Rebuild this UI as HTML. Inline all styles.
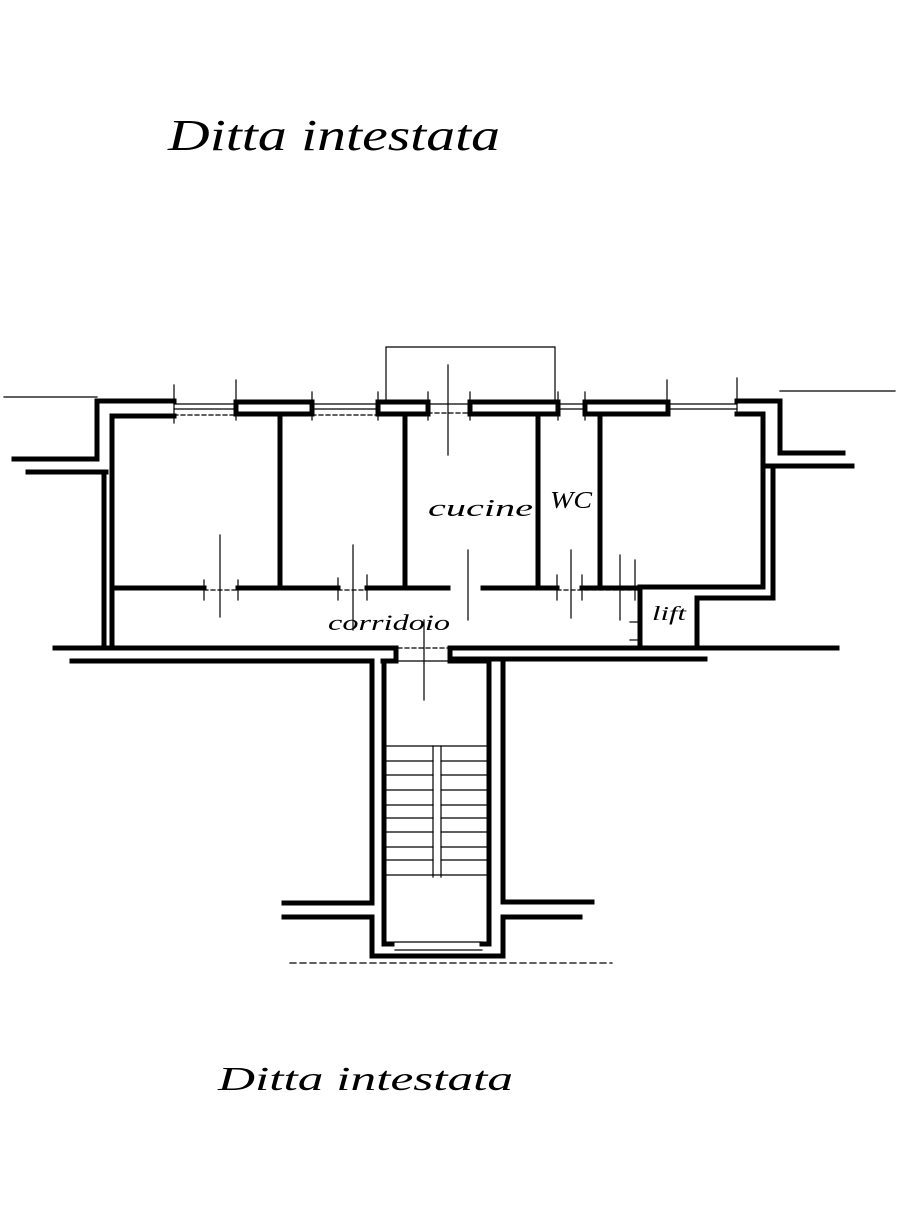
<!DOCTYPE html>
<html><head><meta charset="utf-8"><style>
html,body{margin:0;padding:0;background:#fff;}
svg{display:block;}
text{font-family:"Liberation Serif",serif;font-style:italic;fill:#000;}
</style></head><body>
<svg width="920" height="1230" viewBox="0 0 920 1230" xmlns="http://www.w3.org/2000/svg">
<text x="168" y="150" font-size="44" textLength="332" lengthAdjust="spacingAndGlyphs">Ditta intestata</text>
<text x="218" y="1090" font-size="34" textLength="295" lengthAdjust="spacingAndGlyphs">Ditta intestata</text>

<g stroke="#000" fill="none" stroke-linecap="square">
<!-- thin lines -->
<g stroke-width="1.2">
<line x1="4" y1="397" x2="97" y2="397"/>
<line x1="780" y1="391" x2="895" y2="391"/>
<polyline points="386,400 386,347 555,347 555,400"/>
<line x1="448" y1="365" x2="448" y2="455"/>
<!-- window lines -->
<line x1="174" y1="404" x2="236" y2="404"/><line x1="174" y1="409" x2="236" y2="409"/><line x1="174" y1="415" x2="236" y2="415" stroke-dasharray="4 3"/>
<line x1="312" y1="404" x2="378" y2="404"/><line x1="312" y1="409" x2="378" y2="409"/><line x1="312" y1="415" x2="378" y2="415" stroke-dasharray="4 3"/>
<line x1="428" y1="404" x2="470" y2="404"/><line x1="428" y1="413" x2="470" y2="413" stroke-dasharray="4 3"/>
<line x1="558" y1="404" x2="585" y2="404"/><line x1="558" y1="409" x2="585" y2="409"/>
<line x1="668" y1="404" x2="737" y2="404"/><line x1="668" y1="409" x2="737" y2="409"/>
<!-- window ticks -->
<line x1="174" y1="385" x2="174" y2="423"/><line x1="236" y1="380" x2="236" y2="420"/>
<line x1="312" y1="392" x2="312" y2="420"/><line x1="378" y1="392" x2="378" y2="420"/>
<line x1="428" y1="392" x2="428" y2="420"/><line x1="470" y1="392" x2="470" y2="420"/>
<line x1="558" y1="392" x2="558" y2="420"/><line x1="585" y1="392" x2="585" y2="420"/>
<line x1="667" y1="380" x2="667" y2="415"/><line x1="737" y1="378" x2="737" y2="415"/>
<!-- door ticks corridor -->
<line x1="204" y1="580" x2="204" y2="600"/><line x1="220" y1="535" x2="220" y2="617"/><line x1="238" y1="580" x2="238" y2="600"/>
<line x1="338" y1="578" x2="338" y2="600"/><line x1="353" y1="545" x2="353" y2="630"/><line x1="367" y1="575" x2="367" y2="600"/>
<line x1="468" y1="550" x2="468" y2="620"/><line x1="557" y1="575" x2="557" y2="600"/><line x1="571" y1="550" x2="571" y2="618"/><line x1="582" y1="575" x2="582" y2="600"/>
<line x1="620" y1="555" x2="620" y2="620"/><line x1="635" y1="560" x2="635" y2="600"/>
<line x1="204" y1="590" x2="238" y2="590" stroke-dasharray="4 3"/>
<line x1="338" y1="590" x2="367" y2="590" stroke-dasharray="4 3"/>
<line x1="557" y1="590" x2="640" y2="590" stroke-dasharray="4 3"/>
<line x1="630" y1="622" x2="640" y2="622"/><line x1="630" y1="640" x2="640" y2="640"/>
<line x1="398" y1="648" x2="450" y2="648" stroke-dasharray="4 3"/>
<line x1="398" y1="661" x2="450" y2="661"/>
<line x1="424" y1="620" x2="424" y2="700"/>
<!-- stairs -->
<line x1="387" y1="746" x2="487" y2="746"/>
<line x1="433" y1="746" x2="433" y2="877"/><line x1="441" y1="746" x2="441" y2="877"/>
<line x1="387" y1="761" x2="433" y2="761"/><line x1="441" y1="761" x2="487" y2="761"/>
<line x1="387" y1="775" x2="433" y2="775"/><line x1="441" y1="775" x2="487" y2="775"/>
<line x1="387" y1="790" x2="433" y2="790"/><line x1="441" y1="790" x2="487" y2="790"/>
<line x1="387" y1="805" x2="433" y2="805"/><line x1="441" y1="805" x2="487" y2="805"/>
<line x1="387" y1="818" x2="433" y2="818"/><line x1="441" y1="818" x2="487" y2="818"/>
<line x1="387" y1="832" x2="433" y2="832"/><line x1="441" y1="832" x2="487" y2="832"/>
<line x1="387" y1="847" x2="433" y2="847"/><line x1="441" y1="847" x2="487" y2="847"/>
<line x1="387" y1="860" x2="433" y2="860"/><line x1="441" y1="860" x2="487" y2="860"/>
<line x1="387" y1="875" x2="487" y2="875"/>
<line x1="395" y1="942" x2="482" y2="942"/><line x1="395" y1="950" x2="482" y2="950"/>
<line x1="290" y1="963" x2="612" y2="963" stroke-dasharray="6 4"/>
</g>

<!-- thick walls -->
<g stroke-width="5">
<line x1="97" y1="401" x2="174" y2="401"/>
<polyline points="97,401 97,459 14,459"/>
<line x1="28" y1="472" x2="106" y2="472"/>
<line x1="104" y1="472" x2="104" y2="648"/>
<line x1="112" y1="416" x2="112" y2="648"/>
<line x1="112" y1="416" x2="174" y2="416"/>
<rect x="236" y="402" width="76" height="12"/>
<rect x="378" y="402" width="50" height="12"/>
<rect x="470" y="402" width="88" height="12"/>
<rect x="585" y="402" width="83" height="12"/>
<polyline points="737,401 780,401 780,453 843,453"/>
<polyline points="737,414 763,414 763,587 640,587"/>
<polyline points="765,466 852,466"/>
<polyline points="773,466 773,598 697,598 697,645"/>
<line x1="640" y1="587" x2="640" y2="645"/>
<line x1="280" y1="416" x2="280" y2="588"/>
<line x1="405" y1="416" x2="405" y2="588"/>
<line x1="538" y1="414" x2="538" y2="588"/>
<line x1="600" y1="414" x2="600" y2="588"/>
<line x1="112" y1="588" x2="204" y2="588"/>
<line x1="238" y1="588" x2="338" y2="588"/>
<line x1="367" y1="588" x2="448" y2="588"/>
<line x1="483" y1="588" x2="557" y2="588"/>
<line x1="582" y1="588" x2="640" y2="588"/>
<polyline points="55,648 396,648 396,661"/>
<line x1="450" y1="648" x2="837" y2="648"/>
<polyline points="72,661 372,661 372,903 284,903"/>
<polyline points="284,917 372,917 372,956 503,956 503,917 580,917"/>
<polyline points="383,661 396,661"/>
<line x1="384" y1="661" x2="384" y2="944"/>
<polyline points="384,944 392,944"/>
<polyline points="450,648 450,661 489,661 489,944 482,944"/>
<polyline points="450,659 705,659"/>
<polyline points="503,661 503,902 592,902"/>
</g>
</g>

<text x="428" y="516" font-size="24" textLength="105" lengthAdjust="spacingAndGlyphs">cucine</text>
<text x="550" y="508" font-size="24" textLength="42" lengthAdjust="spacingAndGlyphs">WC</text>
<text x="328" y="630" font-size="22" textLength="122" lengthAdjust="spacingAndGlyphs">corridoio</text>
<text x="652" y="620" font-size="20" textLength="34" lengthAdjust="spacingAndGlyphs">lift</text>
</svg>
</body></html>
